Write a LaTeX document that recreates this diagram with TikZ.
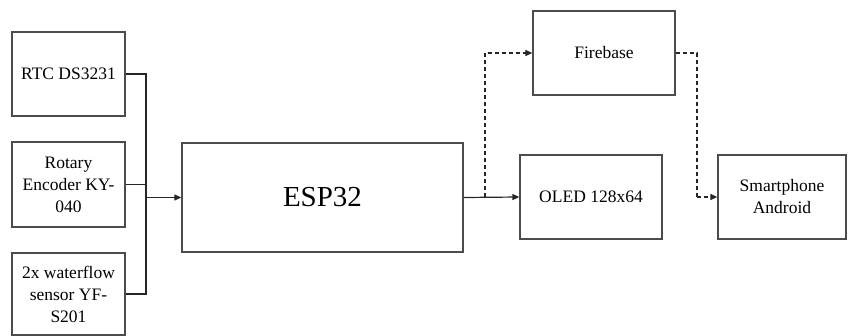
\documentclass[tikz,border=0pt]{standalone}
\usepackage{fontspec}
\setmainfont{Liberation Serif}
\usetikzlibrary{arrows.meta}
\begin{document}
\begin{tikzpicture}[x=1pt,y=-1pt,
  box/.style={draw=black!70,line width=1.3pt,rectangle,align=center,inner sep=2pt,
    font=\fontsize{17.5}{22}\selectfont},
  conn/.style={line width=1.2pt,draw=black!85,-{Triangle[length=7pt,width=6pt]}},
  plain/.style={line width=1.2pt,draw=black!85},
  dsh/.style={dash pattern=on 4pt off 3pt}]
\useasboundingbox (0,0) rectangle (848,336);
\node[box,minimum width=113pt,minimum height=84pt] (rtc) at (68.5,74) {RTC DS3231};
\node[box,minimum width=113pt,minimum height=85pt] (rot) at (68.5,184.5) {Rotary\\Encoder KY-\\040};
\node[box,minimum width=113pt,minimum height=82pt] (water) at (68.5,294) {2x waterflow\\sensor YF-\\S201};
\node[box,minimum width=281pt,minimum height=109pt,font=\fontsize{29}{34}\selectfont] (esp) at (322.5,197.5) {ESP32};
\node[box,minimum width=142pt,minimum height=84pt] (fire) at (604,53) {Firebase};
\node[box,minimum width=142pt,minimum height=84pt] (oled) at (591,197) {OLED 128x64};
\node[box,minimum width=128pt,minimum height=84pt] (phone) at (782,197) {Smartphone\\Android};
\coordinate (j) at (146,197.5);
\coordinate (k) at (485,197.5);
\coordinate (m) at (697,197);
\draw[plain] (rtc.east) -| (j);
\draw[plain] (water.east) -| (j);
\draw[plain] (rot.east) -| (j);
\draw[conn] (j) -- (esp.west);
\draw[conn] (esp.east) -- (oled.west);
\draw[conn,dsh] (k) |- (fire.west);
\draw[plain,dsh] (fire.east) -| (m);
\draw[conn,dsh] (m) -- (phone.west);
\end{tikzpicture}
\end{document}
